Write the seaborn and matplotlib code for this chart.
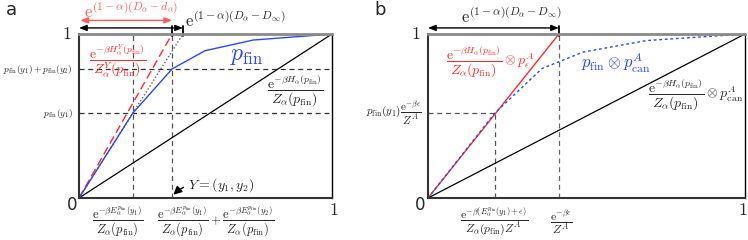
import numpy as np
import pandas as pd
import seaborn as sns
import matplotlib
matplotlib.use("Agg")
import matplotlib.pyplot as plt

sns.set_style("white")
plt.rcParams['font.family'] = ['DejaVu Sans']
plt.rcParams['mathtext.fontset'] = 'cm'

# ---------------- data ----------------
# panel a
a_blue_x = [0.0, 0.213, 0.368, 0.498, 0.688, 1.0]
a_blue_y = [0.0, 0.518, 0.787, 0.898, 0.963, 1.0]
a_red_x = [0.0, 0.368]
a_red_y = [0.0, 1.0]
a_dot_x = [0.0, 0.411]
a_dot_y = [0.0, 1.0]
diag_x = [0.0, 1.0]
diag_y = [0.0, 1.0]
a_xticks = [0.213, 0.368, 1.0]
a_yticks = [0.518, 0.787, 1.0]

# panel b
b_blue_x = [0.0, 0.211, 0.360, 0.490, 0.689, 1.0]
b_blue_y = [0.0, 0.518, 0.790, 0.890, 0.960, 1.0]
b_red_x = [0.0, 0.413]
b_red_y = [0.0, 1.0]
b_xticks = [0.211, 0.413, 1.0]
b_yticks = [0.518, 1.0]

BLUE = '#2a48f5'
RED = '#ff2a2a'
LRED = '#ff5a5a'

W, H = 748, 240
fig = plt.figure(figsize=(W / 100, H / 100), dpi=100)

def P(x, y):
    return x / W, 1 - y / H

def ftext(x, y, s, **kw):
    fx, fy = P(x, y)
    kw.setdefault('ha', 'center')
    kw.setdefault('va', 'center')
    fig.text(fx, fy, s, **kw)

axa = fig.add_axes([79 / W, 1 - 198 / H, (332 - 79) / W, (198 - 34) / H])
axb = fig.add_axes([428 / W, 1 - 198 / H, (745 - 428) / W, (198 - 34) / H])

for ax in (axa, axb):
    ax.set_xlim(0, 1)
    ax.set_ylim(0, 1)
    ax.spines['left'].set_color('#333333')
    ax.spines['left'].set_linewidth(1.5)
    ax.spines['bottom'].set_color('#333333')
    ax.spines['bottom'].set_linewidth(1.5)
    ax.spines['top'].set_color('#8a8a8a')
    ax.spines['top'].set_linewidth(2.0)
    ax.spines['right'].set_color('black')
    ax.spines['right'].set_linewidth(1.0)
    ax.tick_params(direction='inout', length=7, width=1.5, color='black',
                   labelbottom=False, labelleft=False)
    sns.lineplot(x=diag_x, y=diag_y, ax=ax, color='black', lw=0.9, sort=False)

# ---------- panel a ----------
axa.set_xticks(a_xticks)
axa.set_yticks(a_yticks)
for yv in a_yticks[:2]:
    axa.axhline(yv, color='#333333', lw=0.9, ls=(0, (4, 3)), zorder=1)
for xv in a_xticks[:2]:
    axa.axvline(xv, color='#555555', lw=0.9, ls=(0, (4, 3)), zorder=1)
sns.lineplot(x=a_dot_x, y=a_dot_y, ax=axa, color='#666666', lw=1.0,
             linestyle=(0, (1, 1.5)), sort=False)
sns.lineplot(x=a_red_x, y=a_red_y, ax=axa, color=RED, lw=1.0,
             linestyle=(0, (6, 3)), sort=False)
sns.lineplot(x=a_blue_x, y=a_blue_y, ax=axa, color=BLUE, lw=1.0, sort=False)

# arrows above a
arr_k = dict(arrowstyle='<|-|>,head_length=0.45,head_width=0.18', color='black',
             lw=1.0, shrinkA=0, shrinkB=0)
arr_r = dict(arrowstyle='<|-|>,head_length=0.45,head_width=0.18', color=LRED,
             lw=1.0, shrinkA=0, shrinkB=0)
axa.annotate('', xy=(a_dot_x[1], 1.037), xytext=(0, 1.037), arrowprops=arr_k,
             annotation_clip=False)
axa.annotate('', xy=(a_red_x[1], 1.083), xytext=(0.005, 1.083), arrowprops=arr_r,
             annotation_clip=False)
for xv in (a_red_x[1], a_dot_x[1]):
    axa.plot([xv, xv], [0.99, 1.05], color='black', lw=1.3, clip_on=False)

ftext(131, 12, r'$\mathrm{e}^{(1-\alpha)(D_\alpha-d_\alpha)}$', fontsize=12, color=LRED)
ftext(185, 21, r'$\mathrm{e}^{(1-\alpha)(D_\alpha-D_\infty)}$', fontsize=12, ha='left')
ftext(118, 61, r'$\dfrac{\mathrm{e}^{-\beta H_\alpha^Y(p_{\mathrm{fin}})}}{Z_\alpha^Y(p_{\mathrm{fin}})}$',
      fontsize=10, color=RED)
ftext(247, 55, r'$p_{\mathrm{fin}}$', fontsize=17, color=BLUE)
ftext(295, 91, r'$\dfrac{\mathrm{e}^{-\beta H_\alpha(p_{\mathrm{fin}})}}{Z_\alpha(p_{\mathrm{fin}})}$',
      fontsize=10)
ftext(73, 69, r'$p_{\mathrm{fin}}(y_1)+p_{\mathrm{fin}}(y_2)$', fontsize=6.8, ha='right')
ftext(73, 113, r'$p_{\mathrm{fin}}(y_1)$', fontsize=6.8, ha='right')
ftext(72, 34, r'$1$', fontsize=13, ha='right')
ftext(72, 205, '0', fontsize=12)
ftext(334, 210, r'$1$', fontsize=13)
ftext(118, 222, r'$\dfrac{\mathrm{e}^{-\beta E_\alpha^{p_{\mathrm{fin}}}(y_1)}}{Z_\alpha(p_{\mathrm{fin}})}$',
      fontsize=9)
ftext(157, 222, r'$\dfrac{\mathrm{e}^{-\beta E_\alpha^{p_{\mathrm{fin}}}(y_1)}}{Z_\alpha(p_{\mathrm{fin}})}+'
      r'\dfrac{\mathrm{e}^{-\beta E_\alpha^{p_{\mathrm{fin}}}(y_2)}}{Z_\alpha(p_{\mathrm{fin}})}$',
      fontsize=9, ha='left')
axa.annotate(r'$Y=(y_1,y_2)$', xy=(a_xticks[1] + 0.005, 0.02),
             xytext=P(188, 185), textcoords='figure fraction', fontsize=10,
             ha='left', va='center',
             arrowprops=dict(arrowstyle='-|>,head_length=0.5,head_width=0.25',
                             color='black', lw=1.0, shrinkA=1, shrinkB=0,
                             connectionstyle='arc3,rad=0.3'))

# ---------- panel b ----------
axb.set_xticks(b_xticks)
axb.set_yticks(b_yticks)
axb.plot([0, b_xticks[0]], [b_yticks[0], b_yticks[0]], color='#555555', lw=0.9,
         ls=(0, (4, 3)), zorder=1)
axb.plot([b_xticks[0], b_xticks[0]], [0, b_yticks[0]], color='#555555', lw=0.9,
         ls=(0, (4, 3)), zorder=1)
axb.axvline(b_xticks[1], color='#666666', lw=0.9, ls=(0, (4, 3)), zorder=1)
sns.lineplot(x=b_red_x, y=b_red_y, ax=axb, color=RED, lw=1.0, sort=False)
sns.lineplot(x=b_blue_x, y=b_blue_y, ax=axb, color=BLUE, lw=1.0,
             linestyle=(0, (2, 2)), sort=False)
axb.annotate('', xy=(b_red_x[1], 1.037), xytext=(0, 1.037), arrowprops=arr_k,
             annotation_clip=False)
axb.plot([b_red_x[1], b_red_x[1]], [0.99, 1.05], color='black', lw=1.3, clip_on=False)

ftext(511, 17, r'$\mathrm{e}^{(1-\alpha)(D_\alpha-D_\infty)}$', fontsize=12)
ftext(490, 62, r'$\dfrac{\mathrm{e}^{-\beta H_\alpha(p_{\mathrm{fin}})}}{Z_\alpha(p_{\mathrm{fin}})}\otimes p_\epsilon^A$',
      fontsize=10, color=RED)
ftext(616, 63, r'$p_{\mathrm{fin}}\otimes p_{\mathrm{can}}^A$', fontsize=12, color=BLUE)
ftext(696, 95, r'$\dfrac{\mathrm{e}^{-\beta H_\alpha(p_{\mathrm{fin}})}}{Z_\alpha(p_{\mathrm{fin}})}\otimes p_{\mathrm{can}}^A$',
      fontsize=10)
ftext(422, 113, r'$p_{\mathrm{fin}}(y_1)\dfrac{\mathrm{e}^{-\beta\epsilon}}{Z^A}$', fontsize=8, ha='right')
ftext(421, 34, r'$1$', fontsize=13, ha='right')
ftext(420, 205, '0', fontsize=12)
ftext(743, 210, r'$1$', fontsize=13)
ftext(494, 222, r'$\dfrac{\mathrm{e}^{-\beta(E_\alpha^{p_{\mathrm{fin}}}(y_1)+\epsilon)}}{Z_\alpha(p_{\mathrm{fin}})Z^A}$',
      fontsize=8.5)
ftext(561, 222, r'$\dfrac{\mathrm{e}^{-\beta\epsilon}}{Z^A}$', fontsize=8.5)

# panel letters
ftext(11, 10, 'a', fontsize=13)
ftext(380, 10, 'b', fontsize=13)

fig.savefig('out.png', dpi=100)
